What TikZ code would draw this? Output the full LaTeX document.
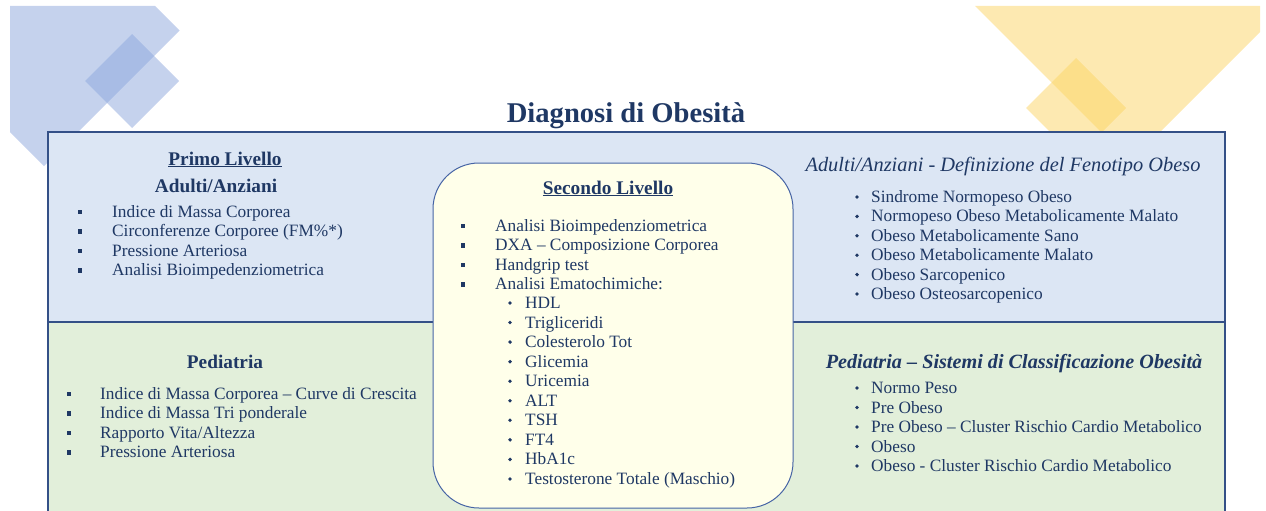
\documentclass[tikz,border=0pt]{standalone}
\usepackage{fontspec}
\setmainfont{Liberation Serif}
\usetikzlibrary{positioning}

\definecolor{navy}{RGB}{31,56,100}
\definecolor{frameblue}{RGB}{52,80,135}
\definecolor{roundblue}{RGB}{70,100,165}
\definecolor{topblue}{RGB}{220,230,244}
\definecolor{botgreen}{RGB}{226,239,218}
\definecolor{cream}{RGB}{255,255,234}
\definecolor{decoblue}{RGB}{140,166,220}
\definecolor{decoyellow}{RGB}{251,212,100}

\begin{document}
\begin{tikzpicture}[x=1pt,y=-1pt,
    txt/.style={anchor=base west,inner sep=0pt,text=navy,font=\fontsize{17.3}{20}\selectfont},
    head/.style={anchor=base,inner sep=0pt,text=navy,font=\fontsize{19.3}{22}\selectfont\bfseries},
    sqb/.style={rectangle,fill=navy,minimum size=4.6pt,inner sep=0pt},
    dotb/.style={circle,fill=navy,minimum size=3.8pt,inner sep=0pt}]
\useasboundingbox (0,0) rectangle (1266,511);

% decorations
\fill[decoblue,fill opacity=.5] (10,6) -- (155,6) -- (179.5,30.5) -- (44,166) -- (10,132) -- cycle;
\fill[decoblue,fill opacity=.5] (132,34) -- (179,81) -- (132,128) -- (85,81) -- cycle;
\fill[decoyellow,fill opacity=.5] (975,6) -- (1260,6) -- (1260,32) -- (1130.5,161.5) -- cycle;
\fill[decoyellow,fill opacity=.5] (1076,58) -- (1126,108) -- (1076,158) -- (1026,108) -- cycle;

% title
\node[head,font=\fontsize{28.6}{32}\selectfont\bfseries] (title) at (626,122) {Diagnosi di Obesità};

% panels
\draw[frameblue,line width=1.3pt,fill=topblue] (48,132) rectangle (1225,322);
\draw[frameblue,line width=1.3pt,fill=botgreen] (48,322) rectangle (1225,525);
\draw[roundblue,line width=1pt,fill=cream,rounded corners=46pt] (433,163) rectangle (793,508);

% primo livello
\node[head] (primo) at (225,165) {\underline{Primo Livello}};
\node[head] (adulti) at (216,192) {Adulti/Anziani};
\foreach \t [count=\i] in {Indice di Massa Corporea,Circonferenze Corporee (FM\%*),Pressione Arteriosa,Analisi Bioimpedenziometrica} {
    \node[sqb] (pa\i) at (80,192.6+19.4*\i) {};
    \node[txt] (ta\i) at (112,198+19.4*\i) {\t};
}

% pediatria
\node[head] (pedia) at (225,368) {Pediatria};
\foreach \t [count=\i] in {Indice di Massa Corporea -- Curve di Crescita,Indice di Massa Tri ponderale,Rapporto Vita/Altezza,Pressione Arteriosa} {
    \node[sqb] (pp\i) at (69,374.6+19.4*\i) {};
    \node[txt] (tp\i) at (100,380+19.4*\i) {\t};
}

% secondo livello
\node[head] (secondo) at (608,194) {\underline{Secondo Livello}};
\foreach \t [count=\i] in {Analisi Bioimpedenziometrica,DXA -- Composizione Corporea,Handgrip test,Analisi Ematochimiche:} {
    \node[sqb] (ps\i) at (463,206.6+19.4*\i) {};
    \node[txt] (ts\i) at (495,212+19.4*\i) {\t};
}
\foreach \t [count=\i] in {HDL,Trigliceridi,Colesterolo Tot,Glicemia,Uricemia,ALT,TSH,FT4,HbA1c,Testosterone Totale (Maschio)} {
    \node[dotb] (pe\i) at (510,283.45+19.55*\i) {};
    \node[txt] (te\i) at (525,288.9+19.55*\i) {\t};
}

% fenotipo
\node[head,font=\fontsize{20.4}{23}\selectfont\itshape] (feno) at (1003,171) {Adulti/Anziani - Definizione del Fenotipo Obeso};
\foreach \t [count=\i] in {Sindrome Normopeso Obeso,Normopeso Obeso Metabolicamente Malato,Obeso Metabolicamente Sano,Obeso Metabolicamente Malato,Obeso Sarcopenico,Obeso Osteosarcopenico} {
    \node[dotb] (pf\i) at (857,177.6+19.4*\i) {};
    \node[txt] (tf\i) at (871,183+19.4*\i) {\t};
}

% classificazione
\node[head,font=\fontsize{20.2}{23}\selectfont\bfseries\itshape] (classi) at (1014,368) {Pediatria -- Sistemi di Classificazione Obesità};
\foreach \t [count=\i] in {Normo Peso,Pre Obeso,Pre Obeso -- Cluster Rischio Cardio Metabolico,Obeso,Obeso - Cluster Rischio Cardio Metabolico} {
    \node[dotb] (pc\i) at (857,368.5+19.5*\i) {};
    \node[txt] (tc\i) at (871,374+19.5*\i) {\t};
}
\end{tikzpicture}
\end{document}
